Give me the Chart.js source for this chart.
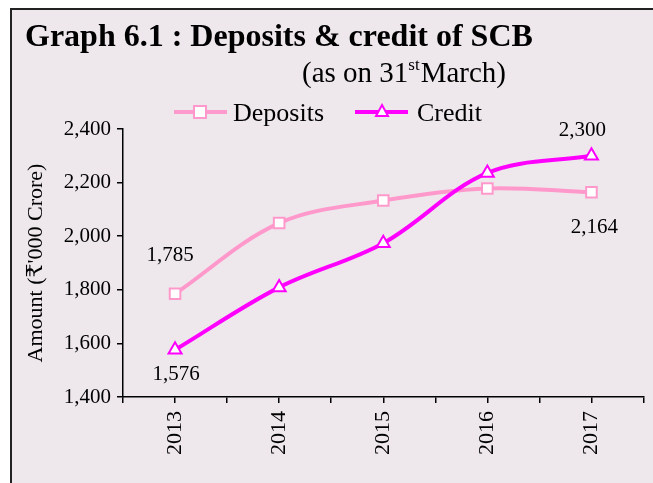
<!DOCTYPE html>
<html>
<head>
<meta charset="utf-8">
<script src="https://cdn.jsdelivr.net/npm/chart.js@4"></script>
<style>
  html, body { margin:0; padding:0; background:#ffffff; }
  #wrap { width:653px; height:483px; position:relative; }
</style>
</head>
<body>
<div id="wrap"><canvas id="c" width="653" height="483"></canvas></div>
<script>
const years = ['2013', '2014', '2015', '2016', '2017'];
const deposits = [1785, 2049, 2133, 2178, 2164];
const credit = [1576, 1809, 1974, 2236, 2300];
const yTicks = [1400, 1600, 1800, 2000, 2200, 2400];
const titleText = 'Graph 6.1 : Deposits & credit of SCB';
const yTitle = "Amount (\u20B9'000 Crore)";

const SERIF = '"Liberation Serif", "Times New Roman", "DejaVu Serif", serif';
const PINK = '#FF99CC';
const MAGENTA = '#FF00FF';
const BG = '#EEE8EC';

const fmt = v => v.toLocaleString('en-US');

const decor = {
  id: 'decor',
  beforeDraw(chart) {
    const ctx = chart.ctx;
    ctx.save();
    ctx.fillStyle = '#ffffff';
    ctx.fillRect(0, 0, 653, 483);
    ctx.fillStyle = BG;
    ctx.fillRect(10, 8, 660, 490);
    ctx.strokeStyle = '#222222';
    ctx.lineWidth = 2;
    ctx.beginPath();
    ctx.moveTo(11, 490);
    ctx.lineTo(11, 9);
    ctx.lineTo(660, 9);
    ctx.stroke();
    ctx.restore();
  },
  afterDraw(chart) {
    const ctx = chart.ctx;
    const xs = chart.scales.x, ys = chart.scales.y;
    ctx.save();
    ctx.fillStyle = '#000';
    // title
    ctx.font = 'bold 32px ' + SERIF;
    ctx.textBaseline = 'alphabetic';
    ctx.textAlign = 'left';
    ctx.fillText(titleText, 25, 46);
    // subtitle
    ctx.font = '29px ' + SERIF;
    let x = 302;
    const p1 = '(as on 31';
    ctx.fillText(p1, x, 82);
    x += ctx.measureText(p1).width;
    ctx.font = '17px ' + SERIF;
    ctx.fillText('st', x, 70);
    x += ctx.measureText('st').width + 1;
    ctx.font = '29px ' + SERIF;
    ctx.fillText('March)', x, 82);

    // legend
    const ly = 112;
    ctx.lineWidth = 4;
    ctx.strokeStyle = PINK;
    ctx.beginPath(); ctx.moveTo(174, ly); ctx.lineTo(227, ly); ctx.stroke();
    ctx.fillStyle = '#fff';
    ctx.lineWidth = 2;
    ctx.fillRect(194, ly - 6, 12, 12);
    ctx.strokeRect(194, ly - 6, 12, 12);
    ctx.lineWidth = 4;
    ctx.strokeStyle = MAGENTA;
    ctx.beginPath(); ctx.moveTo(355, ly); ctx.lineTo(408, ly); ctx.stroke();
    ctx.lineWidth = 2;
    ctx.beginPath();
    ctx.moveTo(382, ly - 7); ctx.lineTo(388, ly + 4); ctx.lineTo(376, ly + 4); ctx.closePath();
    ctx.fillStyle = '#fff'; ctx.fill(); ctx.stroke();
    ctx.fillStyle = '#000';
    ctx.font = '26px ' + SERIF;
    ctx.textBaseline = 'alphabetic';
    ctx.fillText(chart.data.datasets[0].label, 233, 121);
    ctx.fillText(chart.data.datasets[1].label, 417, 121);

    // y-axis title
    ctx.save();
    ctx.translate(36, 263);
    ctx.rotate(-Math.PI / 2);
    ctx.textAlign = 'center';
    ctx.textBaseline = 'middle';
    ctx.font = '22px ' + SERIF;
    ctx.fillText(yTitle, 0, 0);
    ctx.restore();

    // data labels (first and last points)
    ctx.font = '21px ' + SERIF;
    ctx.textAlign = 'center';
    ctx.textBaseline = 'middle';
    const last = years.length - 1;
    ctx.fillText(fmt(deposits[0]), xs.getPixelForValue(0) - 5, ys.getPixelForValue(deposits[0]) - 38);
    ctx.fillText(fmt(credit[0]), xs.getPixelForValue(0) + 1, ys.getPixelForValue(credit[0]) + 25);
    ctx.fillText(fmt(credit[last]), xs.getPixelForValue(last) - 9, ys.getPixelForValue(credit[last]) - 25);
    ctx.fillText(fmt(deposits[last]), xs.getPixelForValue(last) + 3, ys.getPixelForValue(deposits[last]) + 35);
    ctx.restore();
  }
};

new Chart(document.getElementById('c'), {
  type: 'line',
  data: {
    datasets: [
      {
        label: 'Deposits',
        data: deposits.map((v, i) => ({ x: i, y: v })),
        borderColor: PINK,
        backgroundColor: '#ffffff',
        borderWidth: 4,
        pointStyle: 'rect',
        pointRadius: 7.5,
        pointBorderWidth: 2,
        pointBorderColor: PINK,
        pointBackgroundColor: '#ffffff',
        tension: 0.35,
        order: 2
      },
      {
        label: 'Credit',
        data: credit.map((v, i) => ({ x: i, y: v })),
        borderColor: MAGENTA,
        backgroundColor: '#ffffff',
        borderWidth: 4,
        pointStyle: 'triangle',
        pointRadius: 7.5,
        pointBorderWidth: 2,
        pointBorderColor: MAGENTA,
        pointBackgroundColor: '#ffffff',
        tension: 0.35,
        order: 1
      }
    ]
  },
  options: {
    responsive: false,
    animation: false,
    devicePixelRatio: 1,
    layout: { padding: { top: 129, right: 8, left: 0, bottom: 0 } },
    plugins: {
      legend: { display: false },
      title: { display: false },
      tooltip: { enabled: false }
    },
    scales: {
      x: {
        type: 'linear',
        min: -0.5,
        max: years.length - 0.5,
        afterBuildTicks(scale) {
          const t = [];
          for (let v = -0.5; v <= years.length - 0.5 + 1e-9; v += 0.5) t.push({ value: v });
          scale.ticks = t;
        },
        afterFit(scale) {
          scale.height = 483 - 397;
          scale.paddingLeft = 0;
          scale.paddingRight = 0;
        },
        border: { display: true, color: '#000', width: 1.5 },
        grid: { display: true, drawOnChartArea: false, drawTicks: true, tickLength: 6, color: '#000', lineWidth: 1.5 },
        ticks: {
          autoSkip: false,
          minRotation: 90,
          maxRotation: 90,
          padding: 8,
          color: '#000',
          font: { family: SERIF, size: 22 },
          callback(v) { return Number.isInteger(v) ? years[v] : ''; }
        }
      },
      y: {
        min: yTicks[0],
        max: yTicks[yTicks.length - 1],
        afterBuildTicks(scale) { scale.ticks = yTicks.map(v => ({ value: v })); },
        afterFit(scale) {
          scale.width = 123;
          scale.paddingTop = 0;
          scale.paddingBottom = 0;
        },
        border: { display: true, color: '#000', width: 1.5 },
        grid: { display: true, drawOnChartArea: false, drawTicks: true, tickLength: 6, color: '#000', lineWidth: 1.5 },
        ticks: {
          padding: 6,
          color: '#000',
          font: { family: SERIF, size: 21 },
          callback(v) { return fmt(v); }
        }
      }
    }
  },
  plugins: [decor]
});
</script>
</body>
</html>
